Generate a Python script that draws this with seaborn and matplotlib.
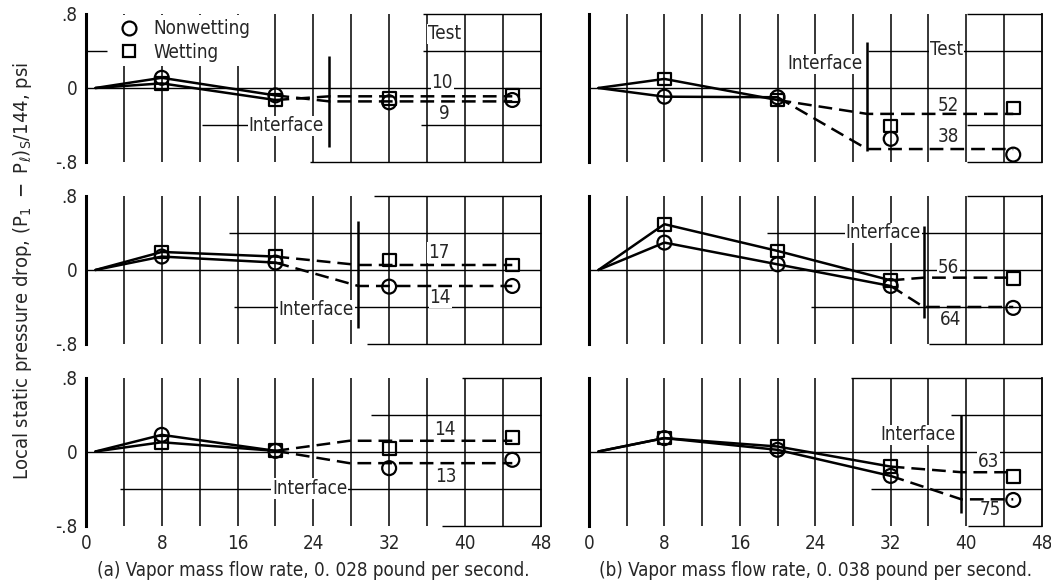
import matplotlib
matplotlib.use("Agg")
import matplotlib.pyplot as plt
import seaborn as sns
from matplotlib import font_manager as fm
from matplotlib.lines import Line2D

# ---------------- data ----------------
stations = [8, 20, 32, 45]          # measuring stations along the tube
origin_x = 1.0                      # curves start from zero drop here
x_major = [0, 8, 16, 24, 32, 40, 48]
x_minor = [4, 12, 20, 28, 36, 44]
x_ticklabels = ["0", "8", "16", "24", "32", "40", "48"]
y_ticks = [0.8, 0.0, -0.8]
y_ticklabels = [".8", "0", "-.8"]

# (a) vapor mass flow rate 0.028 lb/s
a1_nonwet = [0.11, -0.08, -0.155, -0.13]
a1_wet = [0.05, -0.13, -0.11, -0.085]
a2_nonwet = [0.145, 0.08, -0.18, -0.173]
a2_wet = [0.195, 0.145, 0.108, 0.054]
a3_nonwet = [0.18, 0.007, -0.18, -0.09]
a3_wet = [0.10, 0.007, 0.03, 0.155]
# (b) vapor mass flow rate 0.038 lb/s
b1_nonwet = [-0.094, -0.10, -0.55, -0.72]
b1_wet = [0.098, -0.13, -0.41, -0.217]
b2_nonwet = [0.296, 0.061, -0.173, -0.41]
b2_wet = [0.495, 0.206, -0.112, -0.09]
b3_nonwet = [0.145, 0.018, -0.264, -0.524]
b3_wet = [0.145, 0.054, -0.163, -0.27]

# interface location and faired (dashed) levels beyond it
a_interface = [25.7, 28.75, 27.8]
b_interface = [29.5, 35.5, 39.5]
a_level_nonwet = [-0.145, -0.173, -0.126]
a_level_wet = [-0.09, 0.054, 0.116]
b_level_nonwet = [-0.66, -0.40, -0.517]
b_level_wet = [-0.28, -0.083, -0.224]
a_solid_until = [20, 20, 20]
b_solid_until = [20, 32, 32]

a_test_nonwet = ["9", "14", "13"]
a_test_wet = ["10", "17", "14"]
b_test_nonwet = ["38", "64", "75"]
b_test_wet = ["52", "56", "63"]

legend_labels = ["Nonwetting", "Wetting"]
ylabel = r"Local static pressure drop, $\mathregular{(P_1\ -\ P_{\ell})_S/144}$, psi"
caption_a = "(a) Vapor mass flow rate, 0. 028 pound per second."
caption_b = "(b) Vapor mass flow rate, 0. 038 pound per second."

# ---------------- style / layout ----------------
sns.set_style("white")
avail = {f.name for f in fm.fontManager.ttflist}
if "Liberation Sans Narrow" in avail:
    fam, stretch = "Liberation Sans Narrow", "normal"
else:
    fam, stretch = "DejaVu Sans", "condensed"
plt.rcParams["font.family"] = [fam, "DejaVu Sans"]
plt.rcParams["font.stretch"] = stretch
plt.rcParams["mathtext.fontset"] = "dejavusans"

fig = plt.figure(figsize=(10.51, 5.85), dpi=100)
col_x = [0.0818, 0.5604]
col_w = [0.4327, 0.4306]
row_b = [0.7231, 0.4120, 0.1017]
row_h = 0.2530

# style: partial horizontal rulings of the original graph paper
seg_style = {
    ("a", 0): {0.8: [(35.6, 48)], 0.4: [(0, 2.2), (35.6, 48)], -0.4: [(12.2, 17.5), (35.4, 48)], -0.8: [(23.6, 48)]},
    ("a", 1): {0.8: [(30.4, 48)], 0.4: [(15.1, 48)], -0.4: [(15.6, 48)], -0.8: [(29.7, 48)]},
    ("a", 2): {0.8: [(39.7, 48)], 0.4: [(30.1, 48)], -0.4: [(3.6, 48)], -0.8: [(37.6, 48)]},
    ("b", 0): {0.8: [(40.1, 48)], 0.4: [(29.6, 48)], -0.4: [(40.1, 48)], -0.8: [(40.1, 48)]},
    ("b", 1): {0.8: [(40.1, 48)], 0.4: [(18.9, 48)], -0.4: [(23.6, 48)], -0.8: [(36.1, 48)]},
    ("b", 2): {0.8: [(27.8, 48)], 0.4: [(38.4, 48)], -0.4: [(29.9, 48)], -0.8: [(40.2, 48)]},
}
iface_span = {("a", 0): (0.35, -0.64), ("a", 1): (0.53, -0.625), ("a", 2): None,
              ("b", 0): (0.495, -0.68), ("b", 1): (0.477, -0.52), ("b", 2): (0.40, -0.67)}
iface_text = {("a", 0): (25.1, -0.41), ("a", 1): (28.3, -0.43), ("a", 2): (27.6, -0.40),
              ("b", 0): (29.0, 0.26), ("b", 1): (35.2, 0.40), ("b", 2): (38.9, 0.18)}
test_pos = {("a", 0): ((37.6, 0.06), (37.8, -0.28)), ("a", 1): ((37.2, 0.19), (37.4, -0.30)),
            ("a", 2): ((37.9, 0.235), (38.0, -0.27)), ("b", 0): ((38.1, -0.19), (38.1, -0.52)),
            ("b", 1): ((38.1, 0.025), (38.3, -0.535)), ("b", 2): ((42.4, -0.108), (42.6, -0.63))}
test_header = {("a", 0): (37.8, 0.585), ("b", 0): (37.9, 0.42)}

data = {
    "a": dict(nonwet=[a1_nonwet, a2_nonwet, a3_nonwet], wet=[a1_wet, a2_wet, a3_wet],
              iface=a_interface, lvl_n=a_level_nonwet, lvl_w=a_level_wet,
              solid=a_solid_until, tn=a_test_nonwet, tw=a_test_wet),
    "b": dict(nonwet=[b1_nonwet, b2_nonwet, b3_nonwet], wet=[b1_wet, b2_wet, b3_wet],
              iface=b_interface, lvl_n=b_level_nonwet, lvl_w=b_level_wet,
              solid=b_solid_until, tn=b_test_nonwet, tw=b_test_wet),
}

FS = 13.5
white = dict(facecolor="white", edgecolor="none", pad=0.6)
LW = 1.8
dash = (0, (5.5, 2.8))

for ci, col in enumerate(["a", "b"]):
    d = data[col]
    for ri in range(3):
        ax = fig.add_axes([col_x[ci], row_b[ri], col_w[ci], row_h])
        ax.set_xlim(0, 48)
        ax.set_ylim(-0.8, 0.8)
        for s in ["top", "bottom"]:
            ax.spines[s].set_visible(False)
        ax.spines["left"].set_linewidth(2.2)
        ax.spines["right"].set_linewidth(1.3)
        for s in ["left", "right"]:
            ax.spines[s].set_color("black")
        ax.set_xticks(x_major)
        ax.set_xticks(x_minor, minor=True)
        ax.grid(False)
        for xv in x_major[1:-1] + x_minor:
            ax.axvline(xv, color="black", lw=1.1, zorder=1)
        ax.axhline(0, color="black", lw=1.0, zorder=1)
        for yv, segs in seg_style[(col, ri)].items():
            for x0, x1 in segs:
                ax.hlines(yv, x0, x1, color="black", lw=1.0, zorder=1, clip_on=False)
        ax.tick_params(axis="both", which="both", length=0, labelsize=FS, pad=6)
        if ri == 2:
            ax.set_xticklabels(x_ticklabels)
        else:
            ax.set_xticklabels([])
        ax.set_yticks(y_ticks)
        if ci == 0:
            ax.set_yticklabels(y_ticklabels)
        else:
            ax.set_yticklabels([])

        iface = d["iface"][ri]
        k = stations.index(d["solid"][ri])
        for vals, lvl, mk, sz in [(d["nonwet"][ri], d["lvl_n"][ri], "o", 100),
                                  (d["wet"][ri], d["lvl_w"][ri], "s", 85)]:
            sx = [origin_x] + stations[:k + 1]
            sy = [0.0] + vals[:k + 1]
            sns.lineplot(x=sx, y=sy, sort=False, estimator=None, color="black",
                         lw=LW, ax=ax, zorder=4)
            dx = [stations[k], iface, stations[-1]]
            dy = [vals[k], lvl, lvl]
            sns.lineplot(x=dx, y=dy, sort=False, estimator=None, color="black",
                         lw=LW, linestyle=dash, ax=ax, zorder=4)
            sns.scatterplot(x=stations, y=vals, marker=mk, s=sz, facecolor="none",
                            edgecolor="black", linewidth=1.6, ax=ax, zorder=5,
                            clip_on=False, legend=False)

        span = iface_span[(col, ri)]
        if span is not None:
            ax.vlines(iface, span[1], span[0], color="black", lw=1.8, zorder=3)
        tx, ty = iface_text[(col, ri)]
        ax.text(tx, ty, "Interface", ha="right", va="center", fontsize=FS,
                bbox=white, zorder=3)
        (wx, wy), (nx, ny) = test_pos[(col, ri)]
        ax.text(wx, wy, d["tw"][ri], ha="center", va="center", fontsize=FS,
                bbox=white, zorder=3)
        ax.text(nx, ny, d["tn"][ri], ha="center", va="center", fontsize=FS,
                bbox=white, zorder=3)
        if (col, ri) in test_header:
            hx, hy = test_header[(col, ri)]
            ax.text(hx, hy, "Test", ha="center", va="center", fontsize=FS,
                    bbox=white, zorder=3)
        if (col, ri) == ("a", 0):
            handles = [Line2D([], [], marker="o", ls="", mfc="none", mec="black",
                              mew=1.6, ms=10),
                       Line2D([], [], marker="s", ls="", mfc="none", mec="black",
                              mew=1.6, ms=9)]
            leg = ax.legend(handles, legend_labels, loc="upper left",
                            bbox_to_anchor=(0.065, 0.99), frameon=True,
                            fontsize=FS, handlelength=1.0, handletextpad=0.8,
                            labelspacing=0.25, borderpad=0.2, borderaxespad=0.0)
            leg.get_frame().set_facecolor("white")
            leg.get_frame().set_edgecolor("none")
            leg.get_frame().set_alpha(1)
            leg.set_zorder(6)

fig.text(0.021, 0.537, ylabel, rotation=90, ha="center", va="center", fontsize=14.5)
fig.text(col_x[0] + col_w[0] / 2, 0.024, caption_a, ha="center", va="center", fontsize=FS)
fig.text(col_x[1] + col_w[1] / 2, 0.024, caption_b, ha="center", va="center", fontsize=FS)

fig.savefig("out.png", dpi=100)
